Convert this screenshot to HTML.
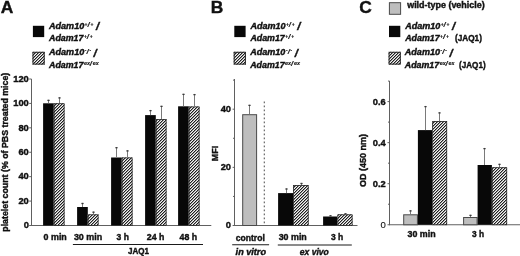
<!DOCTYPE html>
<html><head><meta charset="utf-8"><title>Figure</title>
<style>
html,body{margin:0;padding:0;background:#fff;width:520px;height:256px;overflow:hidden}
svg{display:block;will-change:transform;font-family:'Liberation Sans', sans-serif}
text{font-weight:bold;fill:#111;stroke:#111;stroke-width:0.4px}
</style>
</head><body>
<svg width="520" height="256" viewBox="0 0 520 256">
<defs>
<pattern id="hatch" patternUnits="userSpaceOnUse" width="3" height="3">
<rect width="3" height="3" fill="#f4f4f4"/>
<path d="M0 0h1v1H0zM2 1h1v1H2zM1 2h1v1H1z" fill="#1e1e1e"/>
<path d="M1 0h1v1H1zM0 1h1v1H0zM2 2h1v1H2z" fill="#999999"/>
</pattern>
</defs>
<rect width="520" height="256" fill="#fff"/>
<text x="0.7" y="13.1" font-size="17.4">A</text>
<text x="210.7" y="13.1" font-size="17.4">B</text>
<text x="359.3" y="13.1" font-size="17.4">C</text>
<rect x="32.9" y="25.8" width="11.3" height="11.3" fill="#080808"/>
<text x="49" y="28.8" font-size="8.6" font-style="italic" textLength="35.2" lengthAdjust="spacingAndGlyphs">Adam10</text>
<text x="84.5" y="25.8" font-size="5.2" font-style="italic" textLength="2.8" lengthAdjust="spacingAndGlyphs" style="stroke-width:0.15px">+</text>
<text x="87.4" y="27.2" font-size="7.6" font-style="italic" style="stroke-width:0.15px">/</text>
<text x="90.4" y="25.8" font-size="5.2" font-style="italic" textLength="2.8" lengthAdjust="spacingAndGlyphs" style="stroke-width:0.15px">+</text>
<text x="95.9" y="30.3" font-size="11.4" font-style="italic">/</text>
<text x="49" y="40.5" font-size="8.6" font-style="italic" textLength="34.4" lengthAdjust="spacingAndGlyphs">Adam17</text>
<text x="83.9" y="37.5" font-size="5.2" font-style="italic" textLength="2.8" lengthAdjust="spacingAndGlyphs" style="stroke-width:0.15px">+</text>
<text x="86.8" y="38.9" font-size="7.6" font-style="italic" style="stroke-width:0.15px">/</text>
<text x="89.8" y="37.5" font-size="5.2" font-style="italic" textLength="2.8" lengthAdjust="spacingAndGlyphs" style="stroke-width:0.15px">+</text>
<rect x="32.5" y="51.8" width="12.2" height="12.8" fill="url(#hatch)"/>
<rect x="33" y="52.3" width="11.2" height="11.8" fill="none" stroke="#2a2a2a" stroke-width="1"/>
<text x="49" y="55.3" font-size="8.6" font-style="italic" textLength="35.2" lengthAdjust="spacingAndGlyphs">Adam10</text>
<text x="84.7" y="52.3" font-size="5.2" font-style="italic" textLength="1.6" lengthAdjust="spacingAndGlyphs" style="stroke-width:0.15px">-</text>
<text x="86.5" y="53.7" font-size="7.6" font-style="italic" style="stroke-width:0.15px">/</text>
<text x="89.4" y="52.3" font-size="5.2" font-style="italic" textLength="1.6" lengthAdjust="spacingAndGlyphs" style="stroke-width:0.15px">-</text>
<text x="93.6" y="56.8" font-size="11.4" font-style="italic">/</text>
<text x="49" y="67.5" font-size="8.6" font-style="italic" textLength="34.4" lengthAdjust="spacingAndGlyphs">Adam17</text>
<text x="83.9" y="64.5" font-size="5.4" font-style="italic" textLength="6" lengthAdjust="spacingAndGlyphs" style="stroke-width:0.15px">ex</text>
<text x="89.8" y="65.9" font-size="7.6" font-style="italic" style="stroke-width:0.15px">/</text>
<text x="92.8" y="64.5" font-size="5.4" font-style="italic" textLength="6" lengthAdjust="spacingAndGlyphs" style="stroke-width:0.15px">ex</text>
<line x1="31.5" y1="79" x2="31.5" y2="226" stroke="#606060" stroke-width="1"/>
<line x1="31" y1="225.5" x2="211.3" y2="225.5" stroke="#606060" stroke-width="1"/>
<line x1="29.2" y1="225.5" x2="31.5" y2="225.5" stroke="#606060" stroke-width="1"/>
<text x="28.8" y="228.2" font-size="9.3" text-anchor="end">0</text>
<line x1="29.2" y1="201.08" x2="31.5" y2="201.08" stroke="#606060" stroke-width="1"/>
<text x="28.8" y="203.78" font-size="9.3" text-anchor="end">20</text>
<line x1="29.2" y1="176.67" x2="31.5" y2="176.67" stroke="#606060" stroke-width="1"/>
<text x="28.8" y="179.37" font-size="9.3" text-anchor="end">40</text>
<line x1="29.2" y1="152.25" x2="31.5" y2="152.25" stroke="#606060" stroke-width="1"/>
<text x="28.8" y="154.95" font-size="9.3" text-anchor="end">60</text>
<line x1="29.2" y1="127.83" x2="31.5" y2="127.83" stroke="#606060" stroke-width="1"/>
<text x="28.8" y="130.53" font-size="9.3" text-anchor="end">80</text>
<line x1="29.2" y1="103.42" x2="31.5" y2="103.42" stroke="#606060" stroke-width="1"/>
<text x="28.8" y="106.12" font-size="9.3" text-anchor="end">100</text>
<line x1="29.2" y1="79" x2="31.5" y2="79" stroke="#606060" stroke-width="1"/>
<text x="28.8" y="81.7" font-size="9.3" text-anchor="end">120</text>
<rect x="43.1" y="103.3" width="10.7" height="122.2" fill="#080808"/>
<rect x="53.8" y="103.3" width="10.7" height="122.2" fill="url(#hatch)"/>
<rect x="54.2" y="103.7" width="9.9" height="121.8" fill="none" stroke="#2a2a2a" stroke-width="0.8"/>
<line x1="48.5" y1="99.8" x2="48.5" y2="103.3" stroke="#7a7a7a" stroke-width="1"/>
<line x1="47.4" y1="100.4" x2="49.6" y2="100.4" stroke="#3a3a3a" stroke-width="1.3"/>
<line x1="59.5" y1="97.3" x2="59.5" y2="103.3" stroke="#7a7a7a" stroke-width="1"/>
<line x1="58.4" y1="97.9" x2="60.6" y2="97.9" stroke="#3a3a3a" stroke-width="1.3"/>
<rect x="77.1" y="207" width="10.7" height="18.5" fill="#080808"/>
<rect x="87.8" y="214.4" width="10.7" height="11.1" fill="url(#hatch)"/>
<rect x="88.2" y="214.8" width="9.9" height="10.7" fill="none" stroke="#2a2a2a" stroke-width="0.8"/>
<line x1="82.5" y1="202.9" x2="82.5" y2="207" stroke="#7a7a7a" stroke-width="1"/>
<line x1="81.4" y1="203.5" x2="83.6" y2="203.5" stroke="#3a3a3a" stroke-width="1.3"/>
<line x1="93.5" y1="211.6" x2="93.5" y2="214.4" stroke="#7a7a7a" stroke-width="1"/>
<line x1="92.4" y1="212.2" x2="94.6" y2="212.2" stroke="#3a3a3a" stroke-width="1.3"/>
<rect x="111.1" y="157.5" width="10.7" height="68" fill="#080808"/>
<rect x="121.8" y="157.5" width="10.7" height="68" fill="url(#hatch)"/>
<rect x="122.2" y="157.9" width="9.9" height="67.6" fill="none" stroke="#2a2a2a" stroke-width="0.8"/>
<line x1="116.5" y1="147.1" x2="116.5" y2="157.5" stroke="#7a7a7a" stroke-width="1"/>
<line x1="115.4" y1="147.7" x2="117.6" y2="147.7" stroke="#3a3a3a" stroke-width="1.3"/>
<line x1="127.5" y1="150.3" x2="127.5" y2="157.5" stroke="#7a7a7a" stroke-width="1"/>
<line x1="126.4" y1="150.9" x2="128.6" y2="150.9" stroke="#3a3a3a" stroke-width="1.3"/>
<rect x="145.1" y="115.1" width="10.7" height="110.4" fill="#080808"/>
<rect x="155.8" y="119.1" width="10.7" height="106.4" fill="url(#hatch)"/>
<rect x="156.2" y="119.5" width="9.9" height="106" fill="none" stroke="#2a2a2a" stroke-width="0.8"/>
<line x1="150.5" y1="110" x2="150.5" y2="115.1" stroke="#7a7a7a" stroke-width="1"/>
<line x1="149.4" y1="110.6" x2="151.6" y2="110.6" stroke="#3a3a3a" stroke-width="1.3"/>
<line x1="161.5" y1="105.8" x2="161.5" y2="119.1" stroke="#7a7a7a" stroke-width="1"/>
<line x1="160.4" y1="106.4" x2="162.6" y2="106.4" stroke="#3a3a3a" stroke-width="1.3"/>
<rect x="178.1" y="106.3" width="10.7" height="119.2" fill="#080808"/>
<rect x="188.8" y="106.5" width="10.7" height="119" fill="url(#hatch)"/>
<rect x="189.2" y="106.9" width="9.9" height="118.6" fill="none" stroke="#2a2a2a" stroke-width="0.8"/>
<line x1="183.5" y1="93.8" x2="183.5" y2="106.3" stroke="#7a7a7a" stroke-width="1"/>
<line x1="182.4" y1="94.4" x2="184.6" y2="94.4" stroke="#3a3a3a" stroke-width="1.3"/>
<line x1="194.5" y1="94" x2="194.5" y2="106.5" stroke="#7a7a7a" stroke-width="1"/>
<line x1="193.4" y1="94.6" x2="195.6" y2="94.6" stroke="#3a3a3a" stroke-width="1.3"/>
<text x="43.6" y="239.6" font-size="8.8" textLength="23.2" lengthAdjust="spacingAndGlyphs">0 min</text>
<text x="73.9" y="239.6" font-size="8.8" textLength="28.3" lengthAdjust="spacingAndGlyphs">30 min</text>
<text x="116.6" y="239.6" font-size="8.8" textLength="12.3" lengthAdjust="spacingAndGlyphs">3 h</text>
<text x="146.8" y="239.6" font-size="8.8" textLength="17.6" lengthAdjust="spacingAndGlyphs">24 h</text>
<text x="179.6" y="239.6" font-size="8.8" textLength="17.6" lengthAdjust="spacingAndGlyphs">48 h</text>
<line x1="72.9" y1="244.5" x2="203" y2="244.5" stroke="#1a1a1a" stroke-width="1.1"/>
<text x="128" y="254.1" font-size="8.8" textLength="21" lengthAdjust="spacingAndGlyphs">JAQ1</text>
<text transform="translate(8.4,152.2) rotate(-90)" font-size="8.8" text-anchor="middle" textLength="159" lengthAdjust="spacingAndGlyphs">platelet count (% of PBS treated mice)</text>
<rect x="234.3" y="25.8" width="11.3" height="11.3" fill="#080808"/>
<text x="250.4" y="28.8" font-size="8.6" font-style="italic" textLength="35.2" lengthAdjust="spacingAndGlyphs">Adam10</text>
<text x="285.9" y="25.8" font-size="5.2" font-style="italic" textLength="2.8" lengthAdjust="spacingAndGlyphs" style="stroke-width:0.15px">+</text>
<text x="288.8" y="27.2" font-size="7.6" font-style="italic" style="stroke-width:0.15px">/</text>
<text x="291.8" y="25.8" font-size="5.2" font-style="italic" textLength="2.8" lengthAdjust="spacingAndGlyphs" style="stroke-width:0.15px">+</text>
<text x="297.3" y="30.3" font-size="11.4" font-style="italic">/</text>
<text x="250.4" y="40.5" font-size="8.6" font-style="italic" textLength="34.4" lengthAdjust="spacingAndGlyphs">Adam17</text>
<text x="285.3" y="37.5" font-size="5.2" font-style="italic" textLength="2.8" lengthAdjust="spacingAndGlyphs" style="stroke-width:0.15px">+</text>
<text x="288.2" y="38.9" font-size="7.6" font-style="italic" style="stroke-width:0.15px">/</text>
<text x="291.2" y="37.5" font-size="5.2" font-style="italic" textLength="2.8" lengthAdjust="spacingAndGlyphs" style="stroke-width:0.15px">+</text>
<rect x="233.7" y="51.8" width="12.2" height="12.8" fill="url(#hatch)"/>
<rect x="234.2" y="52.3" width="11.2" height="11.8" fill="none" stroke="#2a2a2a" stroke-width="1"/>
<text x="250.2" y="55.3" font-size="8.6" font-style="italic" textLength="35.2" lengthAdjust="spacingAndGlyphs">Adam10</text>
<text x="285.9" y="52.3" font-size="5.2" font-style="italic" textLength="1.6" lengthAdjust="spacingAndGlyphs" style="stroke-width:0.15px">-</text>
<text x="287.7" y="53.7" font-size="7.6" font-style="italic" style="stroke-width:0.15px">/</text>
<text x="290.6" y="52.3" font-size="5.2" font-style="italic" textLength="1.6" lengthAdjust="spacingAndGlyphs" style="stroke-width:0.15px">-</text>
<text x="294.8" y="56.8" font-size="11.4" font-style="italic">/</text>
<text x="250.2" y="67.5" font-size="8.6" font-style="italic" textLength="34.4" lengthAdjust="spacingAndGlyphs">Adam17</text>
<text x="285.1" y="64.5" font-size="5.4" font-style="italic" textLength="6" lengthAdjust="spacingAndGlyphs" style="stroke-width:0.15px">ex</text>
<text x="291" y="65.9" font-size="7.6" font-style="italic" style="stroke-width:0.15px">/</text>
<text x="294" y="64.5" font-size="5.4" font-style="italic" textLength="6" lengthAdjust="spacingAndGlyphs" style="stroke-width:0.15px">ex</text>
<line x1="234.5" y1="79" x2="234.5" y2="226" stroke="#606060" stroke-width="1"/>
<line x1="234.5" y1="225.5" x2="357.5" y2="225.5" stroke="#606060" stroke-width="1"/>
<line x1="232.6" y1="225.5" x2="234.5" y2="225.5" stroke="#606060" stroke-width="1"/>
<text x="231" y="228.1" font-size="9.3" text-anchor="end">0</text>
<line x1="232.6" y1="167.35" x2="234.5" y2="167.35" stroke="#606060" stroke-width="1"/>
<text x="231" y="169.95" font-size="9.3" text-anchor="end">20</text>
<line x1="232.6" y1="109.2" x2="234.5" y2="109.2" stroke="#606060" stroke-width="1"/>
<text x="231" y="111.8" font-size="9.3" text-anchor="end">40</text>
<line x1="233" y1="196.43" x2="234.5" y2="196.43" stroke="#606060" stroke-width="1"/>
<line x1="233" y1="138.27" x2="234.5" y2="138.27" stroke="#606060" stroke-width="1"/>
<line x1="233" y1="80.12" x2="234.5" y2="80.12" stroke="#606060" stroke-width="1"/>
<rect x="242.7" y="114.7" width="13.9" height="110.8" fill="#bebebe" stroke="#4a4a4a" stroke-width="1"/>
<line x1="249.5" y1="104.8" x2="249.5" y2="114.2" stroke="#7a7a7a" stroke-width="1"/>
<line x1="248.4" y1="105.4" x2="250.6" y2="105.4" stroke="#3a3a3a" stroke-width="1.3"/>
<line x1="264.3" y1="101.5" x2="264.3" y2="225" stroke="#5a5a5a" stroke-width="1.1" stroke-dasharray="1.7 2.3"/>
<rect x="278.1" y="193.1" width="15" height="32.4" fill="#080808"/>
<line x1="286.5" y1="188.4" x2="286.5" y2="193.1" stroke="#7a7a7a" stroke-width="1"/>
<line x1="285.4" y1="189" x2="287.6" y2="189" stroke="#3a3a3a" stroke-width="1.3"/>
<rect x="293.1" y="185.1" width="15.5" height="40.4" fill="url(#hatch)"/>
<rect x="293.5" y="185.5" width="14.7" height="40" fill="none" stroke="#2a2a2a" stroke-width="0.8"/>
<line x1="301.5" y1="182.9" x2="301.5" y2="185.1" stroke="#7a7a7a" stroke-width="1"/>
<line x1="300.4" y1="183.5" x2="302.6" y2="183.5" stroke="#3a3a3a" stroke-width="1.3"/>
<rect x="323.1" y="216.5" width="14.4" height="9" fill="#080808"/>
<line x1="330.5" y1="215.2" x2="330.5" y2="216.5" stroke="#7a7a7a" stroke-width="1"/>
<line x1="329.4" y1="215.8" x2="331.6" y2="215.8" stroke="#3a3a3a" stroke-width="1.3"/>
<rect x="337.5" y="214.4" width="15" height="11.1" fill="url(#hatch)"/>
<rect x="337.9" y="214.8" width="14.2" height="10.7" fill="none" stroke="#2a2a2a" stroke-width="0.8"/>
<line x1="345.5" y1="213.2" x2="345.5" y2="214.4" stroke="#7a7a7a" stroke-width="1"/>
<line x1="344.4" y1="213.8" x2="346.6" y2="213.8" stroke="#3a3a3a" stroke-width="1.3"/>
<text transform="translate(218.2,153.5) rotate(-90)" font-size="8.8" text-anchor="middle" textLength="15.4" lengthAdjust="spacingAndGlyphs">MFI</text>
<text x="235.8" y="240.5" font-size="8.8" textLength="29" lengthAdjust="spacingAndGlyphs">control</text>
<line x1="232.2" y1="244.8" x2="269.1" y2="244.8" stroke="#1a1a1a" stroke-width="1.1"/>
<text x="235.6" y="255.1" font-size="8.8" font-style="italic" textLength="30.4" lengthAdjust="spacingAndGlyphs">in vitro</text>
<text x="278.7" y="240.4" font-size="8.8" textLength="28.1" lengthAdjust="spacingAndGlyphs">30 min</text>
<text x="330.9" y="240.4" font-size="8.8" textLength="12.3" lengthAdjust="spacingAndGlyphs">3 h</text>
<line x1="277.8" y1="245" x2="351.8" y2="245" stroke="#1a1a1a" stroke-width="1.1"/>
<text x="299.8" y="255.2" font-size="8.8" font-style="italic" textLength="28.9" lengthAdjust="spacingAndGlyphs">ex vivo</text>
<rect x="389.4" y="2.7" width="11.2" height="11.6" fill="#bebebe" stroke="#4a4a4a" stroke-width="1"/>
<text x="407.2" y="8.1" font-size="8.6" textLength="77.5" lengthAdjust="spacingAndGlyphs">wild-type (vehicle)</text>
<rect x="389" y="25.8" width="11.3" height="11.3" fill="#080808"/>
<text x="405.2" y="28.8" font-size="8.6" font-style="italic" textLength="35.2" lengthAdjust="spacingAndGlyphs">Adam10</text>
<text x="440.7" y="25.8" font-size="5.2" font-style="italic" textLength="2.8" lengthAdjust="spacingAndGlyphs" style="stroke-width:0.15px">+</text>
<text x="443.6" y="27.2" font-size="7.6" font-style="italic" style="stroke-width:0.15px">/</text>
<text x="446.6" y="25.8" font-size="5.2" font-style="italic" textLength="2.8" lengthAdjust="spacingAndGlyphs" style="stroke-width:0.15px">+</text>
<text x="452.1" y="30.3" font-size="11.4" font-style="italic">/</text>
<text x="405.2" y="40.5" font-size="8.6" font-style="italic" textLength="34.4" lengthAdjust="spacingAndGlyphs">Adam17</text>
<text x="440.1" y="37.5" font-size="5.2" font-style="italic" textLength="2.8" lengthAdjust="spacingAndGlyphs" style="stroke-width:0.15px">+</text>
<text x="443" y="38.9" font-size="7.6" font-style="italic" style="stroke-width:0.15px">/</text>
<text x="446" y="37.5" font-size="5.2" font-style="italic" textLength="2.8" lengthAdjust="spacingAndGlyphs" style="stroke-width:0.15px">+</text>
<text x="455" y="40.5" font-size="8.6" textLength="26.9" lengthAdjust="spacingAndGlyphs">(JAQ1)</text>
<rect x="388.6" y="51.8" width="12.2" height="12.8" fill="url(#hatch)"/>
<rect x="389.1" y="52.3" width="11.2" height="11.8" fill="none" stroke="#2a2a2a" stroke-width="1"/>
<text x="404.8" y="55.3" font-size="8.6" font-style="italic" textLength="35.2" lengthAdjust="spacingAndGlyphs">Adam10</text>
<text x="440.5" y="52.3" font-size="5.2" font-style="italic" textLength="1.6" lengthAdjust="spacingAndGlyphs" style="stroke-width:0.15px">-</text>
<text x="442.3" y="53.7" font-size="7.6" font-style="italic" style="stroke-width:0.15px">/</text>
<text x="445.2" y="52.3" font-size="5.2" font-style="italic" textLength="1.6" lengthAdjust="spacingAndGlyphs" style="stroke-width:0.15px">-</text>
<text x="449.4" y="56.8" font-size="11.4" font-style="italic">/</text>
<text x="404.8" y="67.5" font-size="8.6" font-style="italic" textLength="34.4" lengthAdjust="spacingAndGlyphs">Adam17</text>
<text x="439.7" y="64.5" font-size="5.4" font-style="italic" textLength="6" lengthAdjust="spacingAndGlyphs" style="stroke-width:0.15px">ex</text>
<text x="445.6" y="65.9" font-size="7.6" font-style="italic" style="stroke-width:0.15px">/</text>
<text x="448.6" y="64.5" font-size="5.4" font-style="italic" textLength="6" lengthAdjust="spacingAndGlyphs" style="stroke-width:0.15px">ex</text>
<text x="459" y="67.5" font-size="8.6" textLength="26.6" lengthAdjust="spacingAndGlyphs">(JAQ1)</text>
<line x1="389.5" y1="81" x2="389.5" y2="225.25" stroke="#606060" stroke-width="1"/>
<line x1="389.5" y1="224.75" x2="520" y2="224.75" stroke="#606060" stroke-width="1"/>
<line x1="387.5" y1="224.75" x2="389.5" y2="224.75" stroke="#606060" stroke-width="1"/>
<text x="385.9" y="227.65" font-size="9.600000000000001" text-anchor="end" style="font-weight:normal;stroke-width:0.1px">0</text>
<line x1="388" y1="204.22" x2="389.5" y2="204.22" stroke="#606060" stroke-width="1"/>
<line x1="387.5" y1="183.7" x2="389.5" y2="183.7" stroke="#606060" stroke-width="1"/>
<text x="385.8" y="186.8" font-size="9.3" text-anchor="end">0.2</text>
<line x1="388" y1="163.18" x2="389.5" y2="163.18" stroke="#606060" stroke-width="1"/>
<line x1="387.5" y1="142.65" x2="389.5" y2="142.65" stroke="#606060" stroke-width="1"/>
<text x="385.8" y="145.75" font-size="9.3" text-anchor="end">0.4</text>
<line x1="388" y1="122.12" x2="389.5" y2="122.12" stroke="#606060" stroke-width="1"/>
<line x1="387.5" y1="101.6" x2="389.5" y2="101.6" stroke="#606060" stroke-width="1"/>
<text x="385.8" y="104.7" font-size="9.3" text-anchor="end">0.6</text>
<line x1="388" y1="81.07" x2="389.5" y2="81.07" stroke="#606060" stroke-width="1"/>
<rect x="403.7" y="214.8" width="13.7" height="9.95" fill="#bebebe" stroke="#4a4a4a" stroke-width="1"/>
<line x1="410.5" y1="210.3" x2="410.5" y2="214.3" stroke="#7a7a7a" stroke-width="1"/>
<line x1="409.4" y1="210.9" x2="411.6" y2="210.9" stroke="#3a3a3a" stroke-width="1.3"/>
<rect x="417.9" y="130.1" width="14.35" height="94.65" fill="#080808"/>
<line x1="425.5" y1="106" x2="425.5" y2="130.1" stroke="#7a7a7a" stroke-width="1"/>
<line x1="424.4" y1="106.6" x2="426.6" y2="106.6" stroke="#3a3a3a" stroke-width="1.3"/>
<rect x="432.25" y="121" width="14.85" height="103.75" fill="url(#hatch)"/>
<rect x="432.65" y="121.4" width="14.05" height="103.35" fill="none" stroke="#2a2a2a" stroke-width="0.8"/>
<line x1="439.5" y1="112.3" x2="439.5" y2="121" stroke="#7a7a7a" stroke-width="1"/>
<line x1="438.4" y1="112.9" x2="440.6" y2="112.9" stroke="#3a3a3a" stroke-width="1.3"/>
<rect x="463.6" y="217.5" width="13.5" height="7.25" fill="#bebebe" stroke="#4a4a4a" stroke-width="1"/>
<line x1="470.5" y1="214.8" x2="470.5" y2="217" stroke="#7a7a7a" stroke-width="1"/>
<line x1="469.4" y1="215.4" x2="471.6" y2="215.4" stroke="#3a3a3a" stroke-width="1.3"/>
<rect x="477.6" y="165" width="14.3" height="59.75" fill="#080808"/>
<line x1="484.5" y1="148" x2="484.5" y2="165" stroke="#7a7a7a" stroke-width="1"/>
<line x1="483.4" y1="148.6" x2="485.6" y2="148.6" stroke="#3a3a3a" stroke-width="1.3"/>
<rect x="491.9" y="167.3" width="15.2" height="57.45" fill="url(#hatch)"/>
<rect x="492.3" y="167.7" width="14.4" height="57.05" fill="none" stroke="#2a2a2a" stroke-width="0.8"/>
<line x1="499.5" y1="163.8" x2="499.5" y2="167.3" stroke="#7a7a7a" stroke-width="1"/>
<line x1="498.4" y1="164.4" x2="500.6" y2="164.4" stroke="#3a3a3a" stroke-width="1.3"/>
<text x="407.5" y="236.6" font-size="8.8" textLength="28.1" lengthAdjust="spacingAndGlyphs">30 min</text>
<text x="472" y="236.6" font-size="8.8" textLength="12.1" lengthAdjust="spacingAndGlyphs">3 h</text>
<text transform="translate(366.2,160.5) rotate(-90)" font-size="8.8" text-anchor="middle" textLength="53" lengthAdjust="spacingAndGlyphs">OD (450 nm)</text>
</svg>
</body></html>
